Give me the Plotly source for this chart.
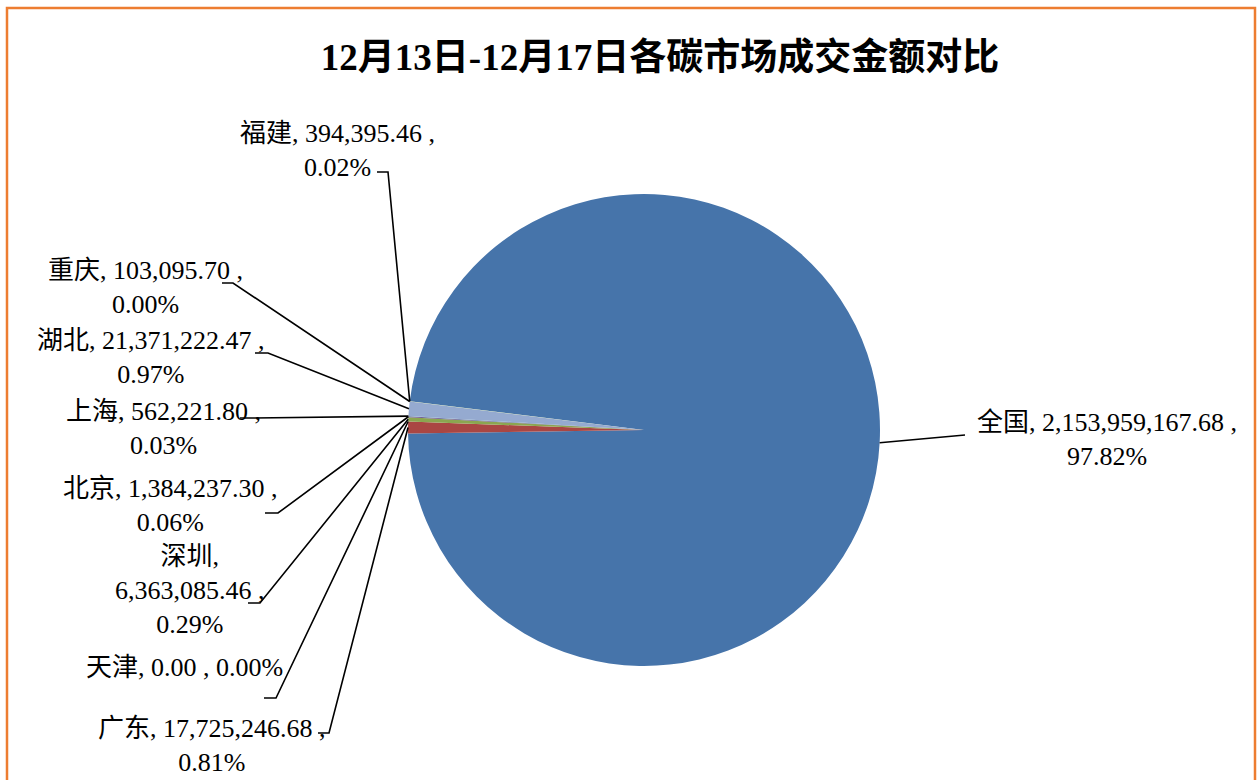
import math
import re
import plotly.graph_objects as go

# ---- data ----
regions = ["全国", "广东", "天津", "深圳", "北京", "上海", "湖北", "重庆", "福建"]
amounts = [2153959167.68, 17725246.68, 0.00, 6363085.46, 1384237.30,
           562221.80, 21371222.47, 103095.70, 394395.46]
pct_labels = ["97.82%", "0.81%", "0.00%", "0.29%", "0.06%",
              "0.03%", "0.97%", "0.00%", "0.02%"]
colors = ["#4674AA", "#AA4643", "#D9D9D9", "#8BA650", "#71588F",
          "#4BACC6", "#95AAD0", "#D19392", "#B9CD96"]

title_text = "12月13日-12月17日各碳市场成交金额对比"

W, H = 1257, 780
CX, CY, R = 644, 430, 236
ROT = 277.0

SERIF = "Liberation Serif, Times New Roman, serif"
CJK = "Noto Sans CJK SC, sans-serif"


def px(x):
    return x / W


def py(y):
    return 1 - y / H


def fmt(v):
    return f"{v:,.2f}"


def mixfont(s):
    # latin runs in serif, CJK runs in CJK font
    out = []
    for part in re.findall(r"[\u3000-\u9fff]+|[^\u3000-\u9fff]+", s):
        fam = CJK if re.match(r"[\u3000-\u9fff]", part) else SERIF
        out.append(f'<span style="font-family:{fam}">{part}</span>')
    return "".join(out)


# label layout (pixel positions, text block centre) and leader stubs
label_layout = {
    "全国": dict(pos=(1107, 436), lines=None, stub=((965, 435), (965, 435))),
    "广东": dict(pos=(212, 742), lines=None, stub=((318, 733), (329, 733))),
    "天津": dict(pos=(184, 664), lines="one", stub=((264, 698), (276, 698))),
    "深圳": dict(pos=(190, 587), lines="three", stub=((248, 603), (260, 603))),
    "北京": dict(pos=(170, 502), lines=None, stub=((265, 513), (278, 513))),
    "上海": dict(pos=(164, 425), lines=None, stub=((240, 418), (252, 418))),
    "湖北": dict(pos=(151, 354), lines=None, stub=((255, 353), (268, 353))),
    "重庆": dict(pos=(145, 284), lines=None, stub=((222, 283), (233, 283))),
    "福建": dict(pos=(338, 147), lines=None, stub=((377, 172), (388, 172))),
}

fig = go.Figure()
fig.add_trace(go.Pie(
    labels=regions,
    values=amounts,
    sort=False,
    direction="clockwise",
    rotation=ROT,
    marker=dict(colors=colors, line=dict(width=0)),
    textinfo="none",
    hoverinfo="label+value+percent",
    showlegend=False,
    domain=dict(x=[px(CX - R), px(CX + R)], y=[py(CY + R), py(CY - R)]),
))

total = sum(amounts)
cum = 0.0
shapes = []
annotations = []
for name, val, pct in zip(regions, amounts, pct_labels):
    span = val / total * 360.0
    mid = math.radians(ROT + cum + span / 2)
    cum += span
    ex = CX + R * math.sin(mid)
    ey = CY - R * math.cos(mid)
    lay = label_layout[name]
    (sx0, sy0), (sx1, sy1) = lay["stub"]
    path = f"M {px(sx0)},{py(sy0)} L {px(sx1)},{py(sy1)} L {px(ex)},{py(ey)}"
    shapes.append(dict(type="path", xref="paper", yref="paper", path=path,
                       line=dict(color="black", width=1.6)))
    if lay["lines"] == "one":
        lines = [f"{name}, {fmt(val)} , {pct}"]
    elif lay["lines"] == "three":
        lines = [f"{name},", f"{fmt(val)} ,", pct]
    else:
        lines = [f"{name}, {fmt(val)} ,", pct]
    txt = "<br>".join(mixfont(l) for l in lines)
    annotations.append(dict(
        x=px(lay["pos"][0]), y=py(lay["pos"][1]), xref="paper", yref="paper",
        text=txt, showarrow=False, xanchor="center", yanchor="middle",
        align="center", font=dict(family=SERIF, size=26, color="black"),
    ))

# outer orange frame
shapes.append(dict(type="rect", xref="paper", yref="paper",
                   x0=px(7), x1=px(1255), y0=py(800), y1=py(8),
                   line=dict(color="#ED7D31", width=2.5), fillcolor="rgba(0,0,0,0)"))

fig.update_layout(
    width=W, height=H,
    margin=dict(l=0, r=0, t=0, b=0),
    paper_bgcolor="white",
    plot_bgcolor="white",
    title=dict(text=f"<b>{mixfont(title_text)}</b>", x=px(660), y=py(57),
               xanchor="center", yanchor="middle",
               font=dict(family=SERIF, size=37, color="black")),
    shapes=shapes,
    annotations=annotations,
)

fig.write_html("out.html", config={"displayModeBar": False},
               post_script="document.body.style.margin='0';document.body.style.overflow='hidden';")
